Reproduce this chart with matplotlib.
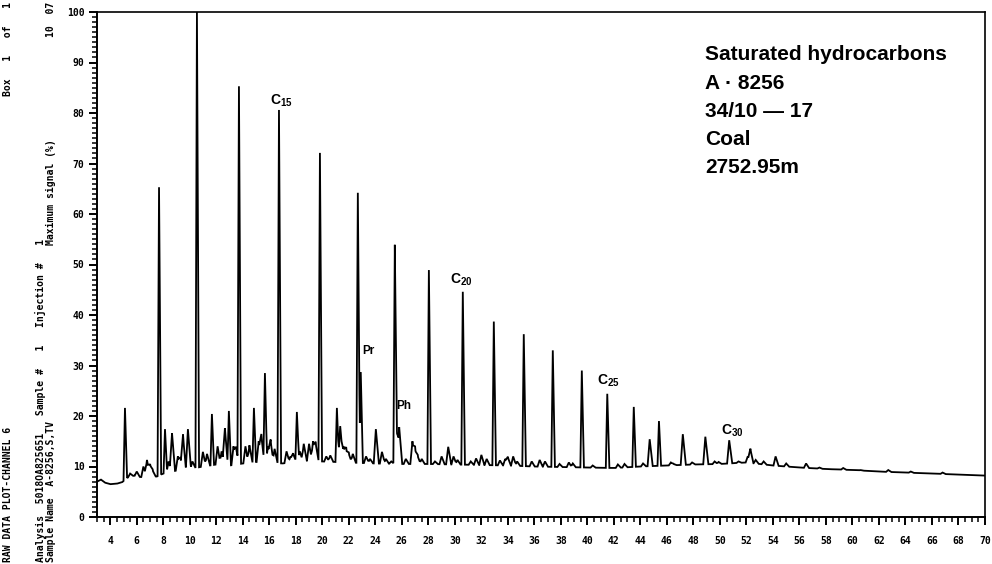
import numpy as np
import matplotlib
matplotlib.use("Agg")
import matplotlib.pyplot as plt
from matplotlib.ticker import MultipleLocator, FixedLocator

# ---------------- data ----------------
peak_rt = [5.11, 5.5, 6.0, 6.5, 6.77, 7.0, 7.2, 7.68, 8.13, 8.4, 8.66, 9.1, 9.3, 9.49,
           9.86, 10.2, 10.54, 10.99, 11.3, 11.67, 12.1, 12.4, 12.65, 12.95, 13.3,
           13.5, 13.71, 14.2, 14.5, 14.84, 15.2, 15.4, 15.67, 15.9, 16.1, 16.4,
           16.73, 17.3, 17.6, 17.8, 18.08, 18.3, 18.6, 19.0, 19.3, 19.5, 19.82,
           20.3, 20.6, 21.1, 21.35, 21.6, 21.8, 22.0, 22.3, 22.68, 22.9, 23.3, 23.6,
           24.04, 24.5, 24.8, 25.2, 25.47, 25.6, 25.8, 26.3, 26.8, 27.0, 27.2,
           27.5, 28.04, 28.5, 29.0, 29.5, 29.9, 30.2, 30.6, 31.2, 31.6, 32.0, 32.4,
           32.94, 33.4, 33.8, 34.0, 34.4, 34.7, 35.2, 35.8, 36.4, 36.8, 37.39,
           37.9, 38.6, 38.9, 39.58, 40.4, 41.5, 42.3, 42.8, 43.5, 44.2, 44.7,
           45.4, 46.3, 46.5, 47.2, 47.9, 48.9, 49.6, 49.9, 50.7, 51.4, 52.1,
           52.3, 52.7, 53.3, 54.2, 55.0, 56.5, 57.5, 59.3, 60.6, 62.7, 64.4, 66.8]
peak_top = [21.6, 8.6, 9.0, 10.0, 11.3, 10.5, 9.2, 65.3, 17.4, 11.0, 16.6, 12.0, 11.5,
            16.0, 17.4, 11.0, 100.0, 12.9, 12.5, 20.4, 14.0, 13.0, 17.6, 21.0, 14.0,
            13.5, 85.1, 14.0, 14.2, 21.6, 15.0, 16.0, 28.5, 14.0, 15.0, 13.5,
            80.6, 13.0, 12.0, 12.5, 20.8, 13.0, 14.5, 14.5, 15.0, 14.5, 72.1,
            12.0, 12.2, 21.6, 18.0, 14.0, 13.5, 12.5, 12.5, 64.2, 28.7, 12.0, 11.5,
            17.4, 12.9, 11.5, 11.0, 53.9, 18.6, 17.8, 11.5, 15.0, 13.5, 12.0,
            11.5, 48.9, 11.0, 12.0, 13.9, 12.0, 11.3, 44.6, 11.0, 11.6, 12.3, 11.5,
            38.7, 11.2, 11.5, 11.8, 12.0, 11.0, 36.2, 11.0, 11.3, 11.0, 33.0,
            10.5, 10.8, 10.6, 29.0, 10.2, 24.4, 10.4, 10.5, 21.8, 10.6, 15.4,
            19.0, 10.8, 10.5, 16.4, 10.8, 15.9, 11.0, 10.9, 15.2, 11.0, 12.0,
            13.4, 11.3, 11.0, 12.0, 10.6, 10.6, 9.8, 9.7, 9.3, 9.3, 9.0, 8.8]

base_rt = [3.0, 3.3, 3.6, 4.0, 4.5, 4.9, 5.3, 5.8, 6.3, 7.0, 7.5, 8.0, 9.0, 10.0,
           11.0, 12.0, 13.0, 14.0, 15.0, 16.0, 17.0, 18.0, 19.0, 20.0, 22.0, 24.0,
           26.0, 28.0, 30.0, 32.0, 34.0, 36.0, 38.0, 40.0, 42.0, 44.0, 46.0, 48.0,
           50.0, 52.0, 54.0, 56.0, 58.0, 60.0, 62.0, 64.0, 66.0, 68.0, 70.0]
base_lvl = [7.0, 7.4, 6.8, 6.5, 6.6, 6.9, 7.8, 8.2, 7.9, 8.2, 8.0, 8.6, 9.2, 9.5,
            10.0, 10.4, 10.2, 10.6, 10.9, 10.8, 10.6, 11.0, 11.2, 11.0, 10.8, 10.6,
            10.5, 10.5, 10.4, 10.3, 10.2, 10.0, 9.9, 9.8, 9.7, 10.0, 10.2, 10.4,
            10.5, 10.8, 10.2, 9.8, 9.5, 9.3, 9.0, 8.8, 8.6, 8.4, 8.2]

x_ticks = list(range(4, 72, 2))
y_ticks = list(range(0, 110, 10))

peak_labels = [r"C$_{\mathbf{15}}$", "Pr", "Ph", r"C$_{\mathbf{20}}$", r"C$_{\mathbf{25}}$", r"C$_{\mathbf{30}}$"]
label_x = [16.9, 23.5, 26.15, 30.5, 41.6, 50.9]
label_y = [82.5, 32.9, 22.0, 47.0, 27.0, 17.0]

info_lines = ["Saturated hydrocarbons", "A \u00b7 8256", "34/10 \u2014 17", "Coal", "2752.95m"]

# ---------------- figure ----------------
plt.rcParams['mathtext.fontset'] = 'custom'
plt.rcParams['mathtext.rm'] = 'Liberation Sans:bold'
plt.rcParams['mathtext.bf'] = 'Liberation Sans:bold'

fig = plt.figure(figsize=(9.92, 5.64), dpi=100)
ax = fig.add_axes([97/992, 1-517/564, (985-97)/992, (517-12)/564])

# trace: baseline plus narrow peaks at the read positions/heights
grid = np.arange(3.0, 70.0001, 0.01)
baseline = np.interp(grid, base_rt, base_lvl)
trace = baseline.copy()
for rt, top in zip(peak_rt, peak_top):
    amp = top - np.interp(rt, base_rt, base_lvl)
    w = 0.11 if amp > 8 else 0.16
    left = np.clip(1 - (rt - grid) / w, 0, 1)
    right = np.clip(1 - (grid - rt) / (w * 1.4), 0, 1)
    trace = trace + amp * np.where(grid <= rt, left, right)

ax.plot(grid, trace, color='black', lw=1.3, solid_joinstyle='miter')

ax.set_xlim(3, 70)
ax.set_ylim(0, 100)
ax.xaxis.set_major_locator(FixedLocator(x_ticks))
ax.xaxis.set_minor_locator(MultipleLocator(0.5))
ax.yaxis.set_major_locator(FixedLocator(y_ticks))
ax.yaxis.set_minor_locator(MultipleLocator(1))
ax.set_xticklabels([str(v) for v in x_ticks])
ax.set_yticklabels([str(v) for v in y_ticks])
ax.tick_params(axis='both', which='major', direction='out', length=6, width=1.4,
               labelsize=7, pad=8, colors='black')
ax.tick_params(axis='both', which='minor', direction='out', length=3.5, width=1.1)
ax.tick_params(axis='y', which='major', pad=3)
for lab in ax.get_xticklabels() + ax.get_yticklabels():
    lab.set_fontfamily('DejaVu Sans Mono')
    lab.set_fontweight('bold')
for s in ax.spines.values():
    s.set_linewidth(1.4)
ax.spines['right'].set_linewidth(1.2)
ax.spines['top'].set_linewidth(1.2)

for t, xx, yy in zip(peak_labels, label_x, label_y):
    fs = 8.5 if t in ("Pr", "Ph") else 10
    ax.text(xx, yy, t, ha='center', va='center', fontsize=fs,
            fontfamily='Liberation Sans', fontweight='bold')

for i, line in enumerate(info_lines):
    fig.text(705/992, 1 - (55 + i*28.2)/564, line, ha='left', va='center',
             fontsize=15, fontfamily='Liberation Sans', fontweight='bold')

# vertical header text on the left
mono = dict(fontfamily='DejaVu Sans Mono', fontweight='bold', fontsize=7,
            rotation=90, ha='center')
fig.text(8/992, 2/564, "RAW DATA PLOT-CHANNEL 6", va='bottom', **mono)
fig.text(8/992, 1 - 2/564, "Box   1   of   1", va='top', **mono)
fig.text(40/992, 2/564, "Analysis  5018OA825651   Sample #   1   Injection #   1",
         va='bottom', **mono)
fig.text(51/992, 2/564, "Sample Name  A-8256,S,TV", va='bottom', **mono)
fig.text(51/992, 1 - 245/564, "Maximum signal (%)", va='bottom', **mono)
fig.text(51/992, 1 - 2/564, "10  07", va='top', **mono)

fig.savefig("out.png", dpi=100)
